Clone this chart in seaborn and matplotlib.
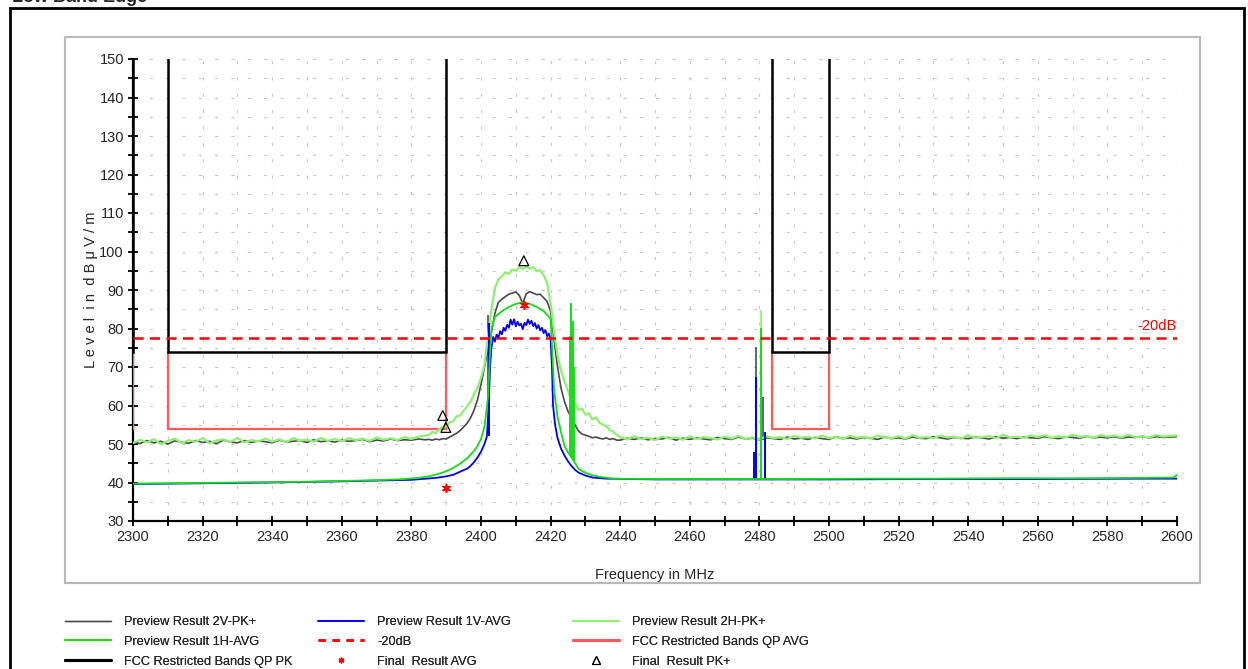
import numpy as np
import pandas as pd
import matplotlib
matplotlib.use("Agg")
import matplotlib.pyplot as plt
from matplotlib.lines import Line2D
from matplotlib.patches import Rectangle
import seaborn as sns

# ---------------------------------------------------------------- data
# Sweep frequencies of the peak-detector previews (2 MHz outside the channel, 1 MHz across it)
pk_freq = np.concatenate([np.arange(2300, 2385, 2),
                          np.arange(2385, 2440, 1),
                          np.arange(2440, 2601, 2)]).astype(float)

# Preview Result 2H-PK+ (dBuV/m)
pk_2h_left = [50.2, 51.1, 50.4, 51.3, 49.9, 50.8, 51.4, 50.3, 51.0, 50.6,
              51.5, 50.2, 50.9, 51.2, 50.5, 51.6, 50.4, 51.0, 50.7, 51.4,
              50.6, 51.2, 50.5, 51.5, 50.9, 51.1, 50.6, 51.6, 50.8, 51.3,
              50.7, 51.5, 51.0, 51.4, 50.8, 51.7, 51.1, 51.5, 51.0, 51.8,
              51.3, 51.9, 52.2]
pk_2h_band = [52.4, 53.1, 52.8, 53.9, 54.3, 54.6, 55.6, 55.9, 57.2, 57.4,
              58.6, 59.8, 61.0, 63.0, 64.6, 67.2, 70.5, 78.0, 85.0, 90.5,
              92.8, 93.6, 94.6, 94.2, 95.3, 95.0, 96.0, 95.4, 96.2, 95.5,
              95.9, 94.9, 95.1, 93.8, 91.8, 86.5, 79.0, 73.0, 69.0, 66.2,
              63.8, 61.2, 60.6, 58.8, 59.2, 57.6, 58.0, 56.4, 56.9, 55.6,
              55.0, 54.6, 53.6, 53.2, 52.4]
pk_2h_right = [51.8, 51.2, 52.0, 51.3, 51.6, 51.0, 51.9, 51.4, 51.7, 51.1,
               52.0, 51.3, 51.8, 51.5, 51.2, 51.9, 51.4, 52.1, 51.3, 51.7,
               51.2, 52.0, 51.5, 51.8, 51.3, 52.1, 51.6, 51.9, 51.4, 52.2,
               51.5, 51.8, 51.3, 52.1, 51.6, 51.9, 51.4, 52.2, 51.7, 51.5,
               52.0, 51.4, 52.3, 51.6, 51.8, 51.5, 52.2, 51.7, 51.9, 51.4,
               52.3, 51.6, 51.8, 52.1, 51.5, 52.4, 51.7, 51.9, 51.6, 52.2,
               51.8, 52.3, 51.6, 52.0, 51.7, 52.4, 51.8, 52.1, 51.6, 52.3,
               51.9, 52.2, 51.7, 52.4, 51.8, 52.0, 51.7, 52.3, 51.9, 52.1,
               52.2]

# Preview Result 2V-PK+ (dBuV/m)
pk_2v_left = [50.6, 50.1, 50.9, 50.3, 50.7, 50.0, 50.8, 50.5, 50.2, 50.9,
              50.4, 50.7, 50.1, 51.0, 50.5, 50.3, 50.9, 50.4, 50.8, 50.6,
              50.3, 51.0, 50.5, 50.7, 50.9, 50.4, 51.1, 50.6, 50.8, 50.5,
              51.0, 50.7, 50.9, 51.2, 50.6, 51.0, 50.8, 51.3, 50.9, 51.1,
              51.0, 51.3, 51.1]
pk_2v_band = [51.2, 51.0, 51.3, 51.1, 51.4, 51.3, 51.8, 52.3, 52.8, 53.5,
              54.4, 55.4, 56.8, 58.8, 61.5, 65.5, 70.0, 74.5, 79.0, 84.0,
              86.8, 87.6, 88.3, 88.9, 89.2, 89.5, 88.6, 86.5, 89.0, 89.6,
              89.2, 88.8, 88.9, 88.0, 87.0, 84.5, 77.0, 70.0, 64.5, 61.0,
              58.5, 56.8, 55.0, 53.4, 52.6, 52.3, 52.0, 51.6, 51.8, 51.5,
              51.3, 51.6, 51.2, 51.4, 51.0]
pk_2v_right = [51.0, 51.5, 51.2, 51.6, 51.1, 51.4, 51.3, 51.7, 51.0, 51.5,
               51.2, 51.6, 51.3, 51.1, 51.7, 51.4, 51.2, 51.8, 51.3, 51.5,
               51.1, 51.6, 51.4, 51.2, 51.8, 51.3, 51.5, 51.2, 51.7, 51.4,
               51.2, 51.9, 51.4, 51.6, 51.3, 51.7, 51.5, 51.2, 51.8, 51.4,
               51.6, 51.3, 51.8, 51.5, 51.4, 51.9, 51.6, 51.3, 51.7, 51.5,
               51.4, 51.8, 51.6, 51.3, 51.9, 51.5, 51.7, 51.4, 51.8, 51.6,
               51.5, 51.9, 51.6, 51.4, 51.8, 51.7, 51.5, 52.0, 51.6, 51.8,
               51.6, 51.9, 51.5, 51.8, 51.7, 52.0, 51.6, 51.9, 51.7, 51.8,
               51.9]

# Preview Result 1H-AVG
avg_1h_freq = [2300, 2310, 2320, 2330, 2340, 2350, 2360, 2370, 2378, 2382,
               2385, 2388, 2390, 2392, 2394, 2396, 2398, 2399, 2400, 2401,
               2402, 2402.5, 2403, 2404, 2406, 2408, 2410, 2412, 2414, 2416,
               2418, 2420, 2420.5, 2421, 2422, 2423, 2424, 2425, 2426, 2427,
               2428, 2430, 2432, 2434, 2438, 2450, 2470, 2490, 2510, 2530,
               2550, 2570, 2590, 2599, 2600]
avg_1h_level = [39.7, 39.8, 39.9, 40.0, 40.1, 40.2, 40.4, 40.6, 40.9, 41.2,
                41.6, 42.3, 42.9, 43.8, 44.9, 46.3, 48.2, 49.5, 51.3, 54.5,
                62.0, 72.0, 80.0, 83.0, 84.5, 85.6, 86.4, 86.8, 86.4, 85.6,
                84.5, 82.5, 74.0, 64.0, 57.0, 53.0, 49.5, 47.8, 46.5, 45.0,
                43.6, 42.5, 41.9, 41.5, 41.0, 40.9, 40.9, 40.9, 41.0, 41.0,
                41.1, 41.1, 41.2, 41.3, 42.0]

# Preview Result 1V-AVG
avg_1v_freq = [2300, 2320, 2340, 2360, 2380, 2387, 2390, 2392, 2394, 2396,
               2397, 2398, 2399, 2400, 2401, 2401.7, 2402.2, 2402.6,
               2403, 2403.5, 2404, 2404.5, 2405, 2405.5, 2406, 2406.5, 2407, 2407.5,
               2408, 2408.5, 2409, 2409.5, 2410, 2410.5, 2411, 2411.5, 2412, 2412.5,
               2413, 2413.5, 2414, 2414.5, 2415, 2415.5, 2416, 2416.5, 2417, 2417.5,
               2418, 2418.5, 2419, 2419.5, 2420,
               2420.4, 2420.7, 2421.3, 2422, 2423, 2424, 2425, 2426, 2427, 2428,
               2430, 2432, 2436, 2450, 2480, 2500, 2530, 2560, 2590, 2600]
avg_1v_level = [39.6, 39.8, 40.0, 40.3, 40.7, 41.2, 41.6, 42.0, 42.8, 43.6,
                44.3, 45.3, 46.5, 48.0, 50.0, 52.0, 60.0, 70.0,
                75.0, 77.8, 76.6, 78.4, 77.6, 79.3, 78.5, 80.2, 79.4, 81.0,
                80.2, 82.3, 81.0, 82.4, 80.6, 81.8, 80.8, 81.2, 79.8, 81.5,
                80.9, 82.3, 81.2, 82.0, 80.6, 81.4, 80.0, 80.9, 79.5, 80.2,
                78.8, 79.6, 78.0, 78.7, 77.2,
                70.0, 60.0, 55.0, 51.5, 48.8, 47.0, 45.5, 44.3, 43.3, 42.6,
                41.8, 41.3, 41.0, 40.8, 40.8, 40.8, 40.9, 40.9, 41.0, 41.0]

# Narrow spurious spikes (frequency, foot level, top level)
spike_2v_freq = [2401.9, 2426.4, 2479.0, 2481.0]
spike_2v_base = [60.0, 53.0, 51.0, 51.0]
spike_2v_top = [83.5, 74.4, 75.2, 62.2]
spike_1v_freq = [2402.3, 2478.5, 2479.0, 2481.6]
spike_1v_base = [52.0, 40.8, 40.8, 40.8]
spike_1v_top = [81.5, 48.0, 67.4, 53.0]
spike_1h_freq = [2425.6, 2426.0, 2426.3, 2426.7, 2480.6]
spike_1h_base = [47.0, 46.5, 46.0, 45.5, 41.0]
spike_1h_top = [78.0, 86.5, 82.0, 70.0, 80.1]
spike_2h_freq = [2480.5]
spike_2h_base = [51.5]
spike_2h_top = [84.8]

# Final measurements
final_avg_freq = [2389.8, 2412.3]
final_avg_level = [38.6, 86.0]
final_pk_freq = [2389.0, 2389.9, 2412.3]
final_pk_level = [57.4, 54.3, 97.6]

# FCC restricted bands (MHz) and their limits (dBuV/m)
restricted_bands = [(2200.0, 2300.0), (2310.0, 2390.0), (2483.5, 2500.0)]
limit_qp_pk = 74.0
limit_qp_avg = 54.0
minus20_level = 77.6

x_ticks = [2300, 2320, 2340, 2360, 2380, 2400, 2420, 2440, 2460, 2480,
           2500, 2520, 2540, 2560, 2580, 2600]
y_ticks = [30, 40, 50, 60, 70, 80, 90, 100, 110, 120, 130, 140, 150]

# ---------------------------------------------------------------- style
sns.set_style("white")
FONT = ["Liberation Sans Narrow", "Liberation Sans", "DejaVu Sans"]
plt.rcParams["font.family"] = FONT
plt.rcParams["axes.unicode_minus"] = False

C_2V = "#4a4a4a"
C_1V = "#0000f0"
C_2H = "#8ef071"
C_1H = "#18dc18"
C_RED = "#ff0000"
C_AVG_LIM = "#ff5a5a"

W, H = 1248, 669
fig = plt.figure(figsize=(W / 100, H / 100), dpi=100)
ax = fig.add_axes([133 / W, 1 - 521 / H, (1177 - 133) / W, (521 - 59) / H])

# grid of short dashes
for y in range(30, 151, 5):
    ax.axhline(y, color="#c8c8c8", lw=0.8, ls=(0, (2.7, 12)), zorder=0)
for x in range(2300, 2601, 10):
    ax.axvline(x, color="#c8c8c8", lw=0.8, ls=(0, (2.7, 12)), zorder=0)

# restricted-band limit lines
top = 150.0
for lo, hi in restricted_bands:
    ax.plot([lo, lo, hi, hi], [limit_qp_pk, limit_qp_avg, limit_qp_avg, limit_qp_pk],
            color=C_AVG_LIM, lw=1.6, zorder=3, solid_joinstyle="miter")
    ax.plot([lo, lo, hi, hi], [top, limit_qp_pk, limit_qp_pk, top],
            color="black", lw=1.8, zorder=3, solid_joinstyle="miter")

# preview traces
pk_df = pd.DataFrame({
    "freq": pk_freq,
    "2V": pk_2v_left + pk_2v_band + pk_2v_right,
    "2H": pk_2h_left + pk_2h_band + pk_2h_right,
})
sns.lineplot(data=pk_df, x="freq", y="2V", ax=ax, color=C_2V, lw=1.2,
             estimator=None, sort=False, zorder=4)
ax.vlines(spike_2v_freq, spike_2v_base, spike_2v_top, color=C_2V, lw=1.2, zorder=4)

sns.lineplot(x=avg_1v_freq, y=avg_1v_level, ax=ax, color=C_1V, lw=1.3,
             estimator=None, sort=False, zorder=5)
ax.vlines(spike_1v_freq, spike_1v_base, spike_1v_top, color=C_1V, lw=1.4, zorder=5)

sns.lineplot(data=pk_df, x="freq", y="2H", ax=ax, color=C_2H, lw=1.6,
             estimator=None, sort=False, zorder=4.5)
ax.vlines(spike_2h_freq, spike_2h_base, spike_2h_top, color=C_2H, lw=1.2, zorder=4.5)

sns.lineplot(x=avg_1h_freq, y=avg_1h_level, ax=ax, color=C_1H, lw=1.3,
             estimator=None, sort=False, zorder=5.5)
ax.vlines(spike_1h_freq, spike_1h_base, spike_1h_top, color=C_1H, lw=1.4, zorder=5.5)

# -20 dB reference
ax.axhline(minus20_level, color=C_RED, lw=1.8, ls=(0, (4, 2.6)), zorder=6)
ax.text(2600, minus20_level + 1.2, "-20dB", color=C_RED, ha="right", va="bottom",
        fontsize=10.5)

# final results
sns.scatterplot(x=final_avg_freq, y=final_avg_level, ax=ax, marker=(6, 2, 0),
                color=C_RED, s=30, linewidth=1.2, edgecolor=C_RED, zorder=7)
sns.scatterplot(x=final_pk_freq, y=final_pk_level, ax=ax, marker="^",
                facecolor="none", edgecolor="black", s=50, linewidth=0.9, zorder=7)

# axes
ax.set_xlim(2300, 2600)
ax.set_ylim(30, 150)
ax.set_xticks(x_ticks)
ax.set_yticks(y_ticks)
ax.set_xticks(range(2310, 2600, 20), minor=True)
ax.set_yticks(range(35, 150, 10), minor=True)
ax.tick_params(which="both", direction="inout", length=7, width=1.3, color="black",
               labelsize=10.5, pad=3, bottom=True, left=True)
for s in ("top", "right"):
    ax.spines[s].set_visible(False)
for s in ("left", "bottom"):
    ax.spines[s].set_color("black")
    ax.spines[s].set_linewidth(1.6)
ax.set_xlabel("")
ax.set_ylabel("")
ax.patch.set_alpha(0)

fig.text(91 / W, 1 - 290 / H, "L e v e l  i n  d B μ V / m", rotation=90,
         ha="center", va="center", fontsize=10.5)
fig.text(655 / W, 1 - 575 / H, "Frequency in MHz", ha="center", va="center",
         fontsize=10.5)

# legend in three fixed columns
h_2v = Line2D([], [], color=C_2V, lw=1.0)
h_1v = Line2D([], [], color=C_1V, lw=1.2)
h_2h = Line2D([], [], color=C_2H, lw=1.2)
h_1h = Line2D([], [], color=C_1H, lw=1.2)
h_20 = Line2D([], [], color=C_RED, lw=1.8, ls=(0, (3, 2.6)))
h_avg = Line2D([], [], color=C_AVG_LIM, lw=2.2)
h_pk = Line2D([], [], color="black", lw=2.2)
h_fa = Line2D([], [], ls="none", marker=(6, 2, 0), color=C_RED, ms=4, mew=1)
h_fp = Line2D([], [], ls="none", marker="^", mfc="none", mec="black", ms=6, mew=0.8)
columns = [
    ([h_2v, h_1h, h_pk], ["Preview Result 2V-PK+", "Preview Result 1H-AVG",
                          "FCC Restricted Bands QP PK"]),
    ([h_1v, h_20, h_fa], ["Preview Result 1V-AVG", "-20dB", "Final  Result AVG"]),
    ([h_2h, h_avg, h_fp], ["Preview Result 2H-PK+", "FCC Restricted Bands QP AVG",
                           "Final  Result PK+"]),
]
for x0, (hs, ls) in zip([65, 318, 573], columns):
    leg = fig.legend(hs, ls, loc="upper left", bbox_to_anchor=(x0 / W, 1 - 616 / H),
                     frameon=False, borderpad=0, borderaxespad=0, handlelength=3.6,
                     handletextpad=1.05, labelspacing=0.62, fontsize=9.2, numpoints=1)
    fig.add_artist(leg)

# panel and page frames
fig.add_artist(Rectangle((65 / W, 1 - 583 / H), (1200 - 65) / W, (583 - 37) / H,
                         transform=fig.transFigure, fill=False, ec="#b9b9b9", lw=1.5))
fig.add_artist(Rectangle((10 / W, -0.05), (1244 - 10) / W, 1.05 - 8 / H,
                         transform=fig.transFigure, fill=False, ec="black", lw=2))
fig.text(12 / W, 1 - 2 / H, "Low Band Edge", fontweight="bold", fontsize=13,
         va="baseline", ha="left", family=["Liberation Sans", "DejaVu Sans"])

fig.savefig("out.png", dpi=100)
